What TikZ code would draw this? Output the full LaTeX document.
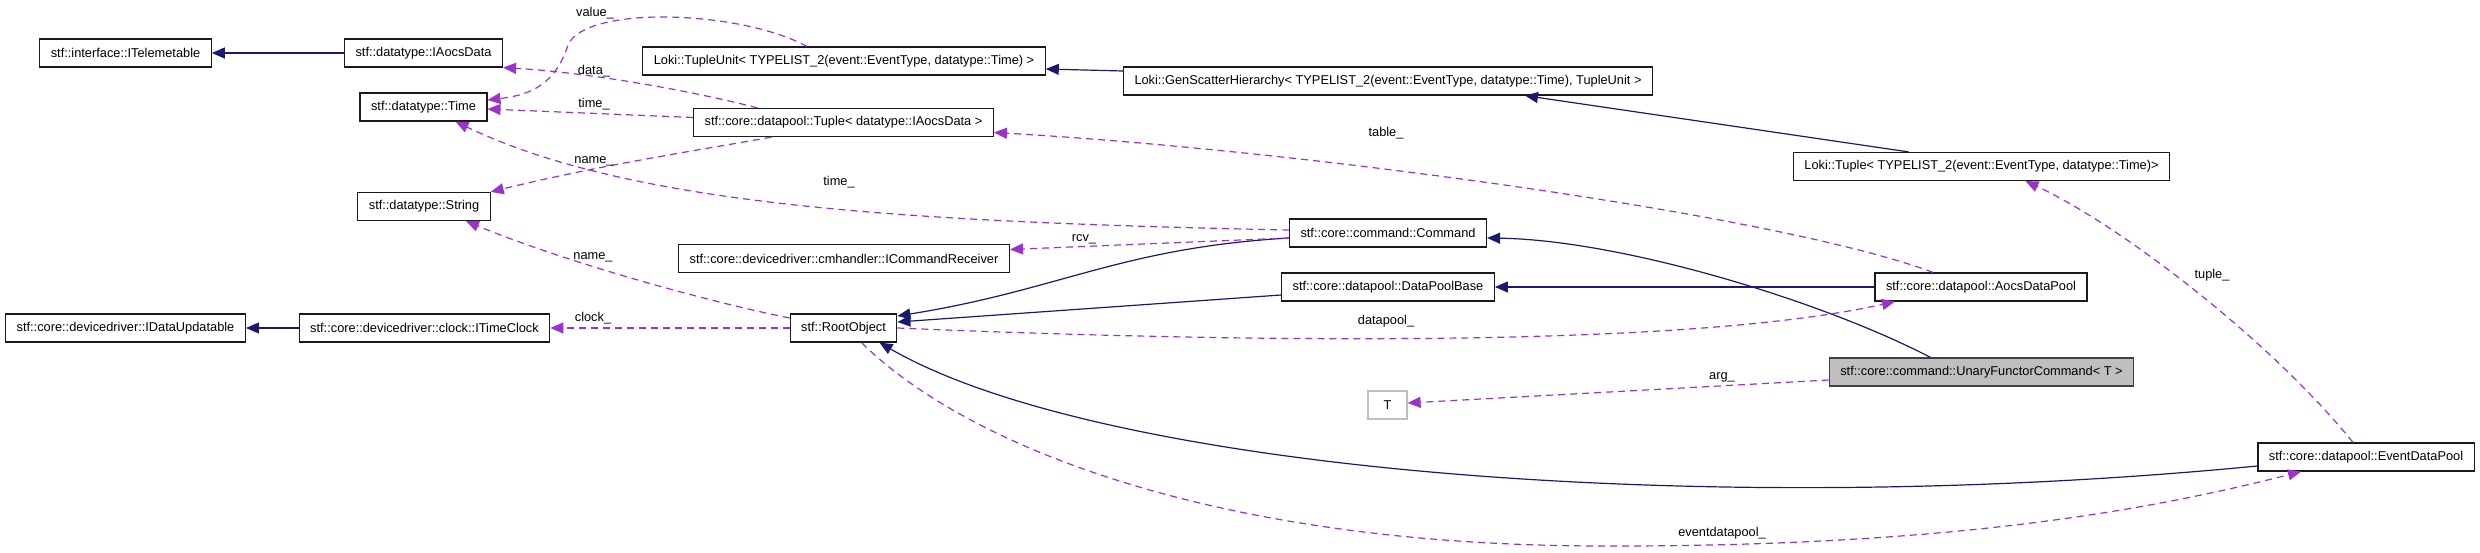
\documentclass[tikz,border=0pt]{standalone}
\usepackage{fontspec}
\setmainfont{Liberation Sans}
\usepackage{xcolor}
\usepackage{tikz}
\usetikzlibrary{arrows.meta}
\definecolor{Navy}{HTML}{191970}
\definecolor{Orchid}{HTML}{9A32CD}
\definecolor{Frame}{HTML}{1A1A1A}
\definecolor{Greyed}{HTML}{BFBFBF}

\begin{document}
\begin{tikzpicture}[x=1pt,y=-1pt,
  classbox/.style={draw=Frame,line width=1.2pt,fill=white,minimum height=28pt,minimum width=39pt,inner xsep=11pt,inner ysep=0pt,font=\fontsize{12.8pt}{15pt}\selectfont},
  current/.style={classbox,fill=Greyed,draw=black!75},
  undoc/.style={classbox,draw=Greyed},
  inharr/.style={-{Triangle[length=13pt,width=11pt]},line width=1.2pt,color=Navy},
  usearr/.style={-{Triangle[length=13pt,width=11pt]},line width=1.2pt,color=Orchid,dash pattern=on 7pt off 5pt},
  edgelabel/.style={inner sep=0pt,font=\fontsize{12.8pt}{15pt}\selectfont}]
  \useasboundingbox (0,0) rectangle (2480,553);
  \node[classbox] (itele) at (125.5,53) {stf::interface::ITelemetable};
  \node[classbox] (iaocs) at (423.5,53) {stf::datatype::IAocsData};
  \node[classbox] (time) at (423.5,107) {stf::datatype::Time};
  \node[classbox] (string) at (424,206.5) {stf::datatype::String};
  \node[classbox] (tupleunit) at (844,61) {Loki::TupleUnit< TYPELIST\_2(event::EventType, datatype::Time) >};
  \node[classbox] (genscatter) at (1388,81) {Loki::GenScatterHierarchy< TYPELIST\_2(event::EventType, datatype::Time), TupleUnit >};
  \node[classbox] (tuple) at (843.5,122.5) {stf::core::datapool::Tuple< datatype::IAocsData >};
  \node[classbox] (lokituple) at (1981.5,166.5) {Loki::Tuple< TYPELIST\_2(event::EventType, datatype::Time)>};
  \node[classbox] (cmdrecv) at (844,258.5) {stf::core::devicedriver::cmhandler::ICommandReceiver};
  \node[classbox] (command) at (1388,233) {stf::core::command::Command};
  \node[classbox] (idataupd) at (125.5,328) {stf::core::devicedriver::IDataUpdatable};
  \node[classbox] (itimeclock) at (424.5,328) {stf::core::devicedriver::clock::ITimeClock};
  \node[classbox] (root) at (843.5,328) {stf::RootObject};
  \node[classbox] (dpbase) at (1388,287) {stf::core::datapool::DataPoolBase};
  \node[classbox] (aocspool) at (1981,287) {stf::core::datapool::AocsDataPool};
  \node[current] (unary) at (1981.5,372) {stf::core::command::UnaryFunctorCommand< T >};
  \node[undoc] (tnode) at (1387.5,405) {T};
  \node[classbox] (eventpool) at (2366,457) {stf::core::datapool::EventDataPool};

  \draw[inharr] (iaocs) -- (itele); \draw[inharr] (itimeclock) -- (idataupd); \draw[inharr] (aocspool) -- (dpbase);
  \draw[inharr] ([yshift=10pt]genscatter.west) -- ([yshift=-8pt]tupleunit.east);
  \draw[inharr] ([xshift=-73pt]lokituple.north) -- ([xshift=137pt]genscatter.south);
  \draw[inharr] ([yshift=-5pt]command.west) .. controls (1120,248) and (1060,290) .. ([yshift=12pt]root.east);
  \draw[inharr] ([yshift=-8pt]dpbase.west) -- ([yshift=6pt]root.east);
  \draw[inharr] ([xshift=-51pt]unary.north) .. controls (1820,300) and (1620,240) .. ([yshift=-5pt]command.east);
  \draw[inharr] ([yshift=-9pt]eventpool.west) .. controls (1700,520) and (1100,470) .. ([xshift=36pt]root.south);

  \draw[usearr] ([xshift=-37pt]tupleunit.north) .. controls (740,10) and (585,5) .. (568,45) .. controls (555,85) and (530,95) .. ([yshift=7pt]time.east);
  \draw[usearr] ([xshift=-86pt]tuple.north) .. controls (680,88) and (580,72) .. (iaocs.south east);
  \draw[usearr] ([yshift=5pt]tuple.west) -- ([yshift=-2pt]time.east);
  \draw[usearr] ([xshift=-72pt]tuple.south) .. controls (700,150) and (600,165) .. (string.north east);
  \draw[usearr] ([yshift=3pt]command.west) .. controls (900,222) and (630,205) .. ([xshift=32pt]time.south);
  \draw[usearr] ([yshift=-5pt]command.west) -- ([yshift=9pt]cmdrecv.east);
  \draw[usearr] ([yshift=10pt]root.west) .. controls (700,300) and (560,260) .. ([xshift=42pt]string.south);
  \draw[usearr] (root) -- (itimeclock);
  \draw[usearr] (root.east) .. controls (1300,345) and (1700,345) .. ([xshift=-86pt]aocspool.south);
  \draw[usearr] ([xshift=-48pt]aocspool.north) .. controls (1780,215) and (1300,150) .. ([yshift=-10pt]tuple.east);
  \draw[usearr] ([yshift=-8pt]unary.west) -- ([yshift=2pt]tnode.east);
  \draw[usearr] ([xshift=18pt]root.south) .. controls (960,440) and (1200,545) .. (1600,546) .. controls (1950,547) and (2150,510) .. ([xshift=-65pt]eventpool.south);
  \draw[usearr] ([xshift=-13pt]eventpool.north) .. controls (2270,340) and (2120,225) .. ([xshift=44pt]lokituple.south);

  \node[edgelabel] (lvalue) at (595,13) {value\_};
  \node[edgelabel] (ldata) at (594,71) {data\_};
  \node[edgelabel] (ltime) at (594,104) {time\_};
  \node[edgelabel] (lname) at (594,161) {name\_};
  \node[edgelabel] (ltimeb) at (839,182) {time\_};
  \node[edgelabel] (lrcv) at (1084,239) {rcv\_};
  \node[edgelabel] (lnameb) at (593,257) {name\_};
  \node[edgelabel] (lclock) at (593,318) {clock\_};
  \node[edgelabel] (ldatapool) at (1386,321) {datapool\_};
  \node[edgelabel] (ltable) at (1386,133) {table\_};
  \node[edgelabel] (larg) at (1722,377) {arg\_};
  \node[edgelabel] (levent) at (1722,533) {eventdatapool\_};
  \node[edgelabel] (ltuple) at (2212,275) {tuple\_};
\end{tikzpicture}
\end{document}
